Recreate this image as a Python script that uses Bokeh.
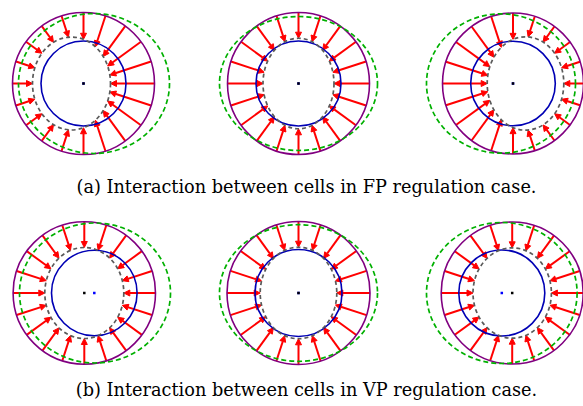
import numpy as np
from bokeh.plotting import figure
from bokeh.models import Range1d, ColumnDataSource, Arrow, NormalHead
from bokeh.embed import file_html
from bokeh.resources import INLINE
from bokeh.core.properties import value

# ---- data (pixel units of the page) ----
cell_x = [83.0, 298.0, 512.5, 83.8, 298.0, 511.7]      # outer (purple) cell centres
cell_y = [83.0, 83.0, 83.0, 292.5, 292.5, 292.5]
outer_r = [71.0, 71.0, 70.5, 71.2, 71.5, 71.0]
inner_dx = [0.0, 0.0, 0.0, 10.0, 0.0, -10.4]            # blue nucleus offset
inner_r = [42.5, 42.5, 42.3, 42.8, 43.5, 43.0]
gray_dx = [-12.0, 0.0, 12.5, 0.0, 0.0, 0.0]             # gray dashed (arrow tips)
gray_a = [39.0, 35.5, 38.3, 39.5, 38.3, 39.2]
gray_b = [46.5, 45.3, 46.7, 45.5, 45.8, 45.2]
green_dx = [10.5, 0.0, -12.0, 10.7, 0.0, -10.4]         # green dashed
green_a = [75.5, 79.0, 74.5, 75.5, 79.0, 75.3]
green_b = [70.0, 67.0, 69.7, 70.0, 68.3, 70.5]
n_arrows = 20
captions = ["(a) Interaction between cells in FP regulation case.",
            "(b) Interaction between cells in VP regulation case."]
caption_x = [306.0, 306.0]
caption_y = [186.7, 389.0]

p = figure(width=583, height=406, x_range=Range1d(0, 583), y_range=Range1d(406, 0),
           output_backend="svg", toolbar_location=None,
           x_axis_location=None, y_axis_location=None, min_border=0)
p.grid.visible = False
p.outline_line_color = None

# arrows from outer circle inwards to the gray ellipse
x0s, y0s, x1s, y1s = [], [], [], []
ang = np.deg2rad(np.arange(n_arrows) * 360.0 / n_arrows)
for i in range(6):
    cx, cy, R = cell_x[i], cell_y[i], outer_r[i]
    gx, gy, a, b = cx + gray_dx[i], cy, gray_a[i], gray_b[i]
    for t in ang:
        c, s = np.cos(t), np.sin(t)
        px, py = cx - gx, cy - gy
        A = (c / a) ** 2 + (s / b) ** 2
        B = 2 * (px * c / a ** 2 + py * s / b ** 2)
        C = (px / a) ** 2 + (py / b) ** 2 - 1
        tt = (-B + np.sqrt(B * B - 4 * A * C)) / (2 * A)
        x0s.append(cx + R * c); y0s.append(cy + R * s)
        x1s.append(cx + tt * c); y1s.append(cy + tt * s)

asrc = ColumnDataSource(dict(x0=x0s, y0=y0s, x1=x1s, y1=y1s))
arr = Arrow(end=NormalHead(size=6, fill_color="#ff0000", line_color="#ff0000", line_width=1),
            x_start="x0", y_start="y0", x_end="x1", y_end="y1", source=asrc,
            line_color="#ff0000", line_width=2, level="underlay")
p.add_layout(arr)

# outer cell membrane
p.circle(x=cell_x, y=cell_y, radius=outer_r, fill_color=None,
         line_color="#800080", line_width=1.6)
# nucleus
ix = [cell_x[i] + inner_dx[i] for i in range(6)]
p.circle(x=ix, y=cell_y, radius=inner_r, fill_color=None,
         line_color="#0000b4", line_width=1.6)
# gray dashed
gxs = [cell_x[i] + gray_dx[i] for i in range(6)]
p.ellipse(x=gxs, y=cell_y, width=[2 * v for v in gray_a], height=[2 * v for v in gray_b],
          fill_color=None, line_color="#5a5a5a", line_width=1.7, line_dash="4 3")
# green dashed
grx = [cell_x[i] + green_dx[i] for i in range(6)]
p.ellipse(x=grx, y=cell_y, width=[2 * v for v in green_a], height=[2 * v for v in green_b],
          fill_color=None, line_color="#00b000", line_width=1.7, line_dash="5 3")
# centres
p.scatter(x=ix, y=cell_y, marker="square", size=2.5, color="#0000ff", line_width=0)
p.scatter(x=cell_x, y=cell_y, marker="square", size=2.5, color="black", line_width=0)

p.text(x=caption_x, y=caption_y, text=captions, text_font=value("DejaVu Serif"),
       text_font_size="17.7px", text_align="center", text_baseline="alphabetic",
       text_color="black")

open("out.html", "w").write(file_html(p, INLINE))
